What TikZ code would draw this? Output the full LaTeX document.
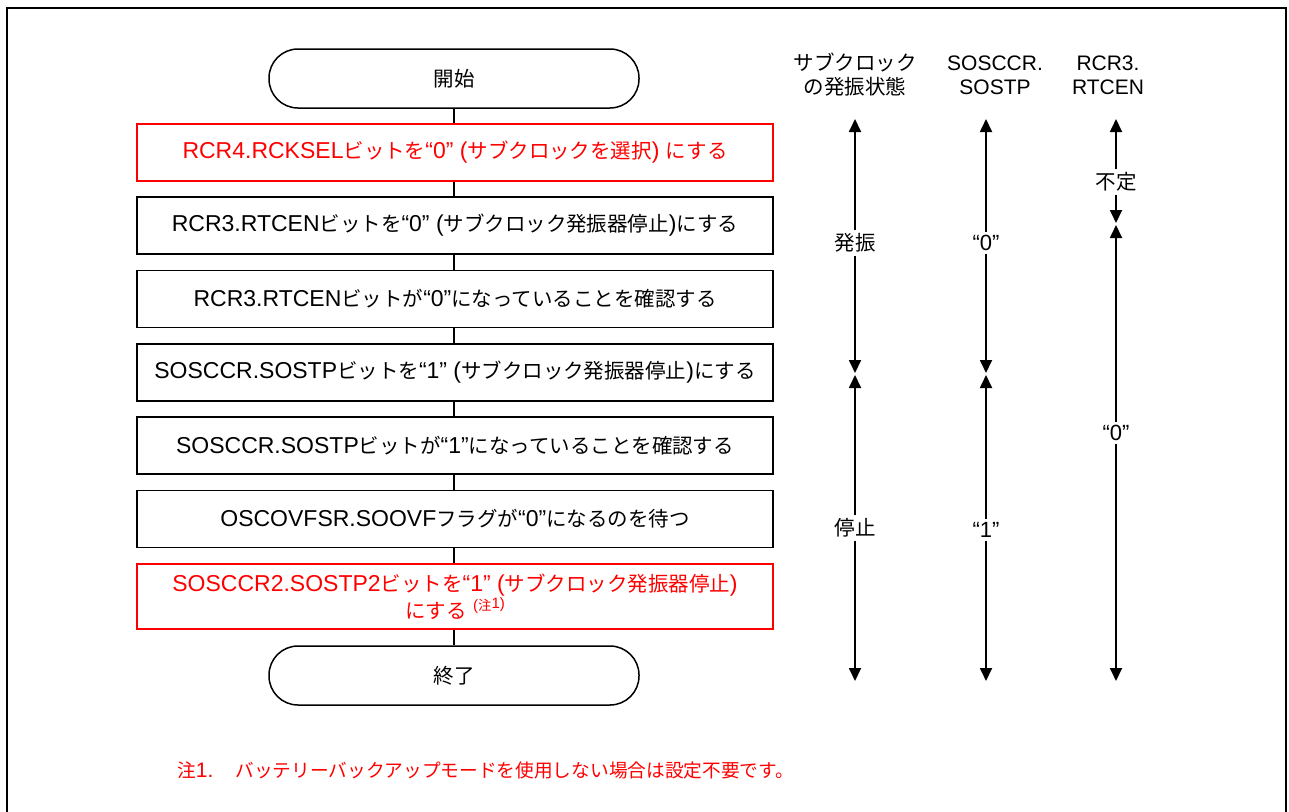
\documentclass[tikz,border=0pt]{standalone}
\usepackage{fontspec}
\setmainfont{Liberation Sans}
\newfontfamily\jpf{Noto Sans CJK JP}[Scale=0.89]
\newfontfamily\jph{Noto Sans CJK JP}
\newcommand\jtxt[1]{{\jpf #1}}
\usetikzlibrary{arrows.meta}
\definecolor{rred}{RGB}{255,0,0}
\tikzset{
  proc/.style={draw, line width=1.5pt, minimum width=636pt, minimum height=57pt,
    inner sep=0pt, align=center, font=\fontsize{23}{25}\selectfont},
  procred/.style={proc, draw=rred, text=rred},
  term/.style={draw, line width=1.5pt, rounded corners=29pt, minimum width=370pt,
    minimum height=59pt, inner sep=0pt, font=\jph\fontsize{20.5}{24}\selectfont},
  conn/.style={line width=1.5pt},
  arr/.style={line width=1.8pt, -{Triangle[length=13pt,width=12pt]}},
  lbl/.style={inner sep=3pt, font=\fontsize{22}{24}\selectfont},
  jlbl/.style={inner sep=3pt, font=\jph\fontsize{20.5}{24}\selectfont},
  hdr/.style={align=center, inner sep=0pt, font=\fontsize{21}{24}\selectfont},
}
\begin{document}
\begin{tikzpicture}[x=1pt,y=-1pt]
\useasboundingbox (0,0) rectangle (1289,811);
\fill[white] (0,0) rectangle (1289,811);
% frame
\draw[line width=2.8pt, line join=miter] (7,815) -- (7,8) -- (1286,8) -- (1286,815);

% flowchart
\node[term] (start) at (454,78.5) {開始};
\node[procred] (b1) at (455,152.5) {RCR4.RCKSEL\jtxt{ビットを}“0” (\jtxt{サブクロックを選択}) \jtxt{にする}};
\node[proc] (b2) at (455,225.5) {RCR3.RTCEN\jtxt{ビットを}“0” (\jtxt{サブクロック発振器停止})\jtxt{にする}};
\node[proc] (b3) at (455,299) {RCR3.RTCEN\jtxt{ビットが}“0”\jtxt{になっていることを確認する}};
\node[proc] (b4) at (455,372.5) {SOSCCR.SOSTP\jtxt{ビットを}“1” (\jtxt{サブクロック発振器停止})\jtxt{にする}};
\node[proc] (b5) at (455,445.5) {SOSCCR.SOSTP\jtxt{ビットが}“1”\jtxt{になっていることを確認する}};
\node[proc] (b6) at (455,519) {OSCOVFSR.SOOVF\jtxt{フラグが}“0”\jtxt{になるのを待つ}};
\node[procred, minimum height=65pt] (b7) at (455,596.5) {SOSCCR2.SOSTP2\jtxt{ビットを}“1” (\jtxt{サブクロック発振器停止})\\\jtxt{にする} \raisebox{8pt}{\fontsize{15}{15}\selectfont(\jtxt{注}\raisebox{2pt}{1)}}};
\node[term] (end) at (454,675.5) {終了};

\draw[conn] (start.south) -- (start.south |- b1.north);
\draw[conn] (b1.south -| start.south) -- (b2.north -| start.south);
\draw[conn] (b2.south -| start.south) -- (b3.north -| start.south);
\draw[conn] (b3.south -| start.south) -- (b4.north -| start.south);
\draw[conn] (b4.south -| start.south) -- (b5.north -| start.south);
\draw[conn] (b5.south -| start.south) -- (b6.north -| start.south);
\draw[conn] (b6.south -| start.south) -- (b7.north -| start.south);
\draw[conn] (b7.south -| end.north) -- (end.north);

% headers
\node[hdr, font=\jph\fontsize{20.5}{24}\selectfont] (h1) at (855,75) {サブクロック\\の発振状態};
\node[hdr] (h2) at (995,75) {SOSCCR.\\SOSTP};
\node[hdr] (h3) at (1108,75) {RCR3.\\RTCEN};

% column 1
\coordinate (c1a) at (855,119);
\coordinate (c1b) at (855,373);
\coordinate (c1c) at (855,375);
\coordinate (c1d) at (855,681);
\node[jlbl] (l1) at (855,243) {発振};
\node[jlbl] (l2) at (855,528) {停止};
\draw[arr] (l1) -- (c1a);
\draw[arr] (l1) -- (c1b);
\draw[arr] (l2) -- (c1c);
\draw[arr] (l2) -- (c1d);

% column 2
\coordinate (c2a) at (986,119);
\coordinate (c2b) at (986,373);
\coordinate (c2c) at (986,375);
\coordinate (c2d) at (986,681);
\node[lbl] (l3) at (986,243) {“0”};
\node[lbl] (l4) at (986,530) {“1”};
\draw[arr] (l3) -- (c2a);
\draw[arr] (l3) -- (c2b);
\draw[arr] (l4) -- (c2c);
\draw[arr] (l4) -- (c2d);

% column 3
\coordinate (c3a) at (1116,119);
\coordinate (c3b) at (1116,223);
\coordinate (c3c) at (1116,225);
\coordinate (c3d) at (1116,681);
\node[jlbl] (l5) at (1116,182) {不定};
\node[lbl] (l6) at (1116,433) {“0”};
\draw[arr] (l5) -- (c3a);
\draw[arr] (l5) -- (c3b);
\draw[arr] (l6) -- (c3c);
\draw[arr] (l6) -- (c3d);

% footnote
\node[anchor=west, inner sep=0pt, text=rred, font=\fontsize{21}{23}\selectfont] (fn) at (177,770)
  {\jtxt{注}1.\hspace{22pt}\jtxt{バッテリーバックアップモードを使用しない場合は設定不要です。}};
\end{tikzpicture}
\end{document}
